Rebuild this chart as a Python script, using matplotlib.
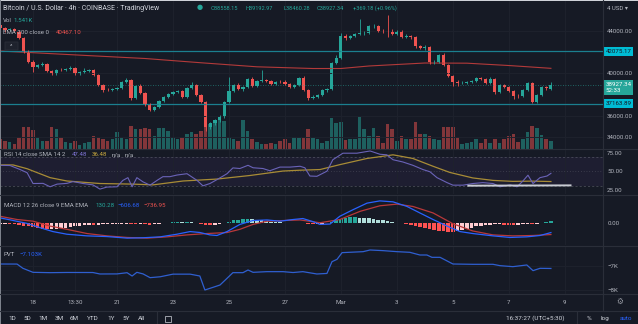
import numpy as np
import matplotlib.pyplot as plt
from matplotlib.patches import Rectangle, FancyBboxPatch

plt.rcParams['font.family'] = ['Roboto', 'DejaVu Sans']

# ---- data: BTC/USD 4h candles, Feb 16 20:00 .. Mar 8 12:00 (x in days from Feb 17) ----
first_bar = -1
opens = [44536, 44254, 44066, 44160, 43972, 43315, 42000, 41061, 40592, 40780, 40873, 40216,
         39934, 40310, 40280, 40404, 40498, 39934, 40122, 40216, 40310, 39841, 38902, 38432,
         38410, 38526, 38620, 39183, 39371, 37681, 38808, 38150, 37117, 36554, 36836, 37399,
         37775, 38056, 38244, 38338, 37775, 38620, 38902, 37963, 37305, 34958, 35333, 35615,
         35895, 37305, 38338, 38902, 38526, 38714, 39465, 38808, 39277, 39371, 39277, 38995,
         39183, 39160, 38995, 38714, 38902, 39559, 38432, 37681, 37775, 37963, 38432, 38526,
         40967, 41437, 43503, 43315, 43503, 43690, 43784, 43810, 44442, 44470, 43972, 43950,
         43878, 43690, 43972, 43409, 43503, 43409, 42564, 42376, 42470, 41061, 41090, 41718,
         40780, 39747, 39183, 39089, 39120, 39183, 39277, 39559, 39465, 39089, 39465, 38244,
         38902, 38714, 38338, 37869, 37850, 38432, 39089, 37305, 37963, 38714, 38558]
highs = [44723, 44348, 44254, 44254, 44066, 43409, 42188, 41249, 40873, 41061, 40967, 40310,
         40404, 40498, 40498, 40686, 40592, 40216, 40498, 40404, 40404, 39934, 38995, 38620,
         38620, 38714, 39277, 39559, 39465, 38902, 38995, 38244, 37211, 36930, 37493, 37869,
         38150, 38338, 38432, 38432, 38714, 39183, 38995, 38056, 37399, 35427, 35707, 36085,
         37399, 39653, 38995, 39089, 38808, 39559, 39653, 39371, 40310, 39465, 39371, 39277,
         39371, 39371, 39089, 38995, 39653, 39747, 38526, 37963, 38056, 38526, 38620, 41061,
         41718, 43784, 43690, 43597, 43784, 45099, 43972, 44536, 44629, 44536, 44160, 45475,
         44160, 44066, 44066, 43690, 43597, 43503, 42658, 42658, 42564, 41249, 41813, 41906,
         40873, 39841, 39371, 39277, 39277, 39371, 39653, 39653, 39559, 39653, 39559, 38995,
         38995, 38808, 38432, 38056, 38526, 39183, 39183, 38056, 38808, 38808, 39193]
lows = [44160, 43878, 43972, 43878, 43221, 41906, 40967, 40122, 40498, 40686, 40122, 39841,
        39841, 40216, 40216, 40310, 39841, 39841, 40028, 40122, 39747, 38808, 38244, 38338,
        38338, 38432, 38526, 39089, 37493, 37587, 38056, 36930, 36460, 36460, 36742, 37305,
        37681, 37963, 38150, 37681, 37681, 38526, 37869, 37211, 34582, 34770, 35146, 35427,
        35801, 37211, 38244, 38432, 38338, 38620, 38714, 38714, 39183, 39183, 38902, 38902,
        39089, 38902, 38620, 38620, 38808, 38338, 37493, 37587, 37681, 37869, 38244, 38432,
        40873, 41343, 43127, 43221, 43409, 43597, 43597, 43690, 44254, 43878, 43784, 43409,
        43597, 43597, 43315, 43315, 43221, 42376, 42282, 42188, 40873, 40873, 40967, 40686,
        39653, 38808, 38808, 38995, 38995, 39089, 39183, 39371, 38995, 38995, 38056, 38150,
        38620, 38244, 37587, 37681, 37775, 38338, 37211, 37211, 37869, 38432, 38460]
closes = [44254, 44066, 44160, 43972, 43315, 42000, 41061, 40592, 40780, 40873, 40216, 39934,
          40310, 40280, 40404, 40498, 39934, 40122, 40216, 40310, 39841, 38902, 38432, 38410,
          38526, 38620, 39183, 39371, 37681, 38808, 38150, 37117, 36554, 36836, 37399, 37775,
          38056, 38244, 38338, 37775, 38620, 38902, 37963, 37305, 34958, 35333, 35615, 35895,
          37305, 38338, 38902, 38526, 38714, 39465, 38808, 39277, 39371, 39277, 38995, 39183,
          39160, 38995, 38714, 38902, 39559, 38432, 37681, 37775, 37963, 38432, 38526, 40967,
          41437, 43503, 43315, 43503, 43690, 43784, 43810, 44442, 44470, 43972, 43950, 43878,
          43690, 43972, 43409, 43503, 43409, 42564, 42376, 42470, 41061, 41090, 41718, 40780,
          39747, 39183, 39089, 39120, 39183, 39277, 39559, 39465, 39089, 39465, 38244, 38902,
          38714, 38338, 37869, 37850, 38432, 39089, 37305, 37963, 38714, 38600, 38927.34]
volumes = [1900, 1520, 1330, 950, 2280, 4180, 4180, 3610, 2280, 1520, 1520, 4180,
           3800, 2280, 1330, 1140, 1520, 760, 1140, 1330, 2470, 2280, 1900, 1520,
           1900, 3230, 2280, 1900, 4370, 3800, 3800, 3990, 3800, 2470, 3990, 3990,
           3420, 2280, 1900, 2280, 2850, 3230, 2850, 3420, 5700, 4750, 5320, 5510,
           5320, 2280, 1900, 1520, 5510, 3420, 1900, 1330, 950, 950, 1140, 950,
           1520, 1900, 1140, 2280, 2090, 2090, 3800, 2090, 1900, 1140, 1520, 5890,
           4940, 5130, 1710, 1900, 1900, 6080, 3800, 2470, 3990, 2470, 1140, 4750,
           3800, 1520, 2470, 1900, 1900, 5130, 2850, 2850, 2470, 1900, 1710, 4180,
           4180, 4180, 2280, 950, 1140, 1330, 1900, 1140, 1900, 1140, 1900, 1140,
           1900, 2470, 2850, 1330, 1900, 3230, 4370, 3990, 2660, 1900, 1541]

ema_days = [-0.18, 1, 3, 5, 7, 9, 11, 12, 13, 15, 16.5, 18, 19.5]
ema_vals = [42090, 41935, 41660, 41390, 40990, 40610, 40450, 40450, 40686, 40967, 40950, 40730, 40467.1]
levels = [42075.17, 37163.89]

rsi_days = [-0.18, 0.18, 0.54, 0.79, 1.0, 1.36, 1.61, 1.86, 2.21, 2.43, 2.79, 3.14, 3.39, 3.64,
            4.0, 4.21, 4.39, 4.54, 4.71, 4.93, 5.18, 5.43, 5.64, 5.89, 6.14, 6.5, 6.86, 7.07,
            7.32, 7.57, 7.93, 8.14, 8.39, 8.68, 8.86, 9.21, 9.46, 9.82, 10.18, 10.54, 10.71,
            10.89, 11.14, 11.5, 11.71, 12.07, 12.57, 13.04, 13.39, 13.64, 13.86, 14.21, 14.57,
            14.93, 15.18, 15.43, 15.79, 16.0, 16.36, 16.71, 17.07, 17.43, 17.68, 18.04, 18.29,
            18.5, 18.68, 18.86, 19.11, 19.36, 19.5]
rsi_vals = [58.3, 58, 52.6, 48.3, 33.8, 34, 29.4, 33, 34, 36.4, 33.8, 32, 26.3, 29,
            29.4, 38, 41.7, 29.4, 41.7, 36, 31.6, 38, 43, 43, 45.2, 47, 38, 30.7,
            33.8, 39, 47, 54.8, 54, 58.3, 55, 54, 51, 55.9, 55.9, 57, 55,
            43.9, 43.5, 50.4, 65.8, 74.6, 74.6, 77.6, 73.2, 72.4, 65.8, 62.8, 58.3,
            52.6, 49.6, 41.7, 35, 31.6, 31.6, 33.8, 35, 33.8, 29.4, 32, 29.4,
            37.2, 45, 33.8, 41.7, 43.9, 47.48]
rsi_ma_days = [-0.18, 0.29, 0.79, 1.61, 2.21, 3.39, 4.57, 5.29, 6.36, 7.57, 8.75, 9.93, 10.54,
               11.25, 11.96, 12.93, 13.86, 14.57, 15.29, 15.89, 16.71, 17.43, 18.14, 18.86, 19.5]
rsi_ma_vals = [58.8, 58.8, 53.7, 41.7, 37.2, 33.8, 33, 32, 37.2, 39.8, 44.6, 50.6, 51.7,
               52.6, 59.2, 67.5, 72.4, 67.5, 57, 48.7, 41.3, 38, 36.7, 37, 36.48]
rsi_trend_days = [16.55, 20.2]
rsi_trend_vals = [30.9, 31.3]

macd_days = [-0.18, 0.29, 0.79, 1.25, 1.71, 2.21, 2.93, 3.64, 4.36, 4.93, 5.54, 6.14, 6.61, 6.96,
             7.32, 7.57, 7.93, 8.39, 8.86, 9.36, 9.82, 10.29, 10.64, 11.0, 11.25, 11.61, 11.96,
             12.43, 12.93, 13.39, 13.86, 14.36, 14.82, 15.29, 15.79, 16.25, 16.71, 17.43, 18.04,
             18.64, 19.11, 19.5]
macd_vals = [370, 195, 0, -280, -540, -715, -825, -870, -975, -950, -890, -715, -540, -600,
             -760, -800, -540, -65, 195, 230, 150, 260, 325, 120, -65, -40, 475,
             910, 1345, 1495, 1430, 1125, 695, 260, -175, -540, -670, -825, -930,
             -890, -800, -606.68]
signal_days = [-0.18, 0.43, 1.0, 1.61, 2.21, 2.93, 3.64, 4.36, 5.07, 5.79, 6.5, 7.21, 7.93, 8.39,
               8.86, 9.36, 10.07, 10.54, 11.25, 11.96, 12.68, 13.39, 14.0, 14.57, 15.29, 16.0,
               16.71, 17.43, 18.14, 18.86, 19.5]
signal_vals = [475, 260, 150, -175, -390, -670, -825, -930, -975, -890, -760, -670, -605, -390,
               -65, 150, 200, 230, 45, 260, 800, 1170, 1280, 1125, 695, -20,
               -500, -760, -825, -800, -736.95]
hist_vals = [-30, -20, -30, -50, -90, -150, -200, -230, -300, -360, -390, -380, -350,
             -310, -270, -230, -190, -150, -110, -80, -90, -80, -70, -60, -50, -40, -30, -30, -50,
             -70, -60, -65, -80, -70, -55, 20, 50, 80, 100, 90, 110, 100,
             60, -40, -90, -100, -80, -60, 30, 120, 200, 260, 300, 320,
             300, 250, 200, 150, 120, 100, 80, 60, 50, 40, 30, 10, -60, -70, -60, -20,
             20, 100, 200, 290, 360, 400, 410, 390, 360, 330, 300, 260, 210, 160, 110, 60,
             20, -40, -100, -180, -250, -310, -390, -440, -480, -520, -550, -560,
             -500, -420, -340, -270, -200, -150, -110, -80, -70, -60, -80, -90, -100, -95, -70, -40,
             -60, -20, 30, 80, 130.28]

pvt_days = [-0.18, 0.43, 0.64, 1.0, 1.61, 2.21, 3.14, 3.39, 4.0, 4.36, 4.54, 4.71, 4.93, 5.18,
            5.54, 6.0, 6.61, 6.96, 7.14, 7.43, 7.68, 7.93, 8.14, 8.5, 8.68, 8.86, 9.36, 9.93,
            10.29, 10.64, 11.14, 11.5, 11.68, 11.86, 12.04, 12.79, 13.04, 13.5, 14.0, 14.46,
            14.82, 15.07, 15.25, 15.54, 16.0, 16.71, 17.43, 17.68, 18.14, 18.64, 18.86, 19.11, 19.5]
pvt_vals = [-6917, -6920, -7097, -7264, -7278, -7270, -7272, -7333, -7330, -7280, -7417, -7264,
            -7330, -7486, -7450, -7340, -7340, -7417, -8000, -7889, -7792, -7514, -7278, -7278,
            -7167, -7264, -7236, -7236, -7272, -7236, -7333, -7310, -6820, -6722, -6444, -6403,
            -6333, -6360, -6403, -6430, -6542, -6542, -6639, -6639, -6917, -6930, -6930, -6986,
            -7028, -6958, -7194, -7097, -7103]

tick_days = [1, 2.5, 4, 6, 8, 10, 12, 14, 16, 18, 20]
tick_labels = ['18', '13:30', '21', '23', '25', '27', 'Mar', '3', '5', '7', '9']

# ---- style ----
W, H = 638, 324
PLOT_R = 603
X0, X1 = -0.179, 21.36
BG = '#161a25'
GRID = '#1e222d'
SEP = '#2a2e39'
TXT = '#b2b5be'
UP = '#26a69a'
DN = '#ef5350'

fig = plt.figure(figsize=(W / 100, H / 100), dpi=100)
fig.patch.set_facecolor(BG)


def pane(top, bottom, face=BG):
    a = fig.add_axes([0, 1 - bottom / H, PLOT_R / W, (bottom - top) / H])
    a.set_facecolor(face)
    a.set_xlim(X0, X1)
    for s in a.spines.values():
        s.set_visible(False)
    a.set_xticks(tick_days)
    a.tick_params(axis='x', length=0, labelbottom=False)
    a.yaxis.tick_right()
    a.tick_params(axis='y', length=0, labelsize=4.4, labelcolor=TXT, pad=3)
    return a


def ftext(x, y, s, color=TXT, size=4.6, ha='left', **kw):
    fig.text(x / W, 1 - y / H, s, color=color, fontsize=size, ha=ha, va='center', **kw)


def hline(y, x0=0, x1=W, color=SEP, lw=0.8):
    fig.add_artist(plt.Line2D([x0 / W, x1 / W], [1 - y / H] * 2, transform=fig.transFigure,
                              color=color, lw=lw))


def vline(x, y0, y1, color=SEP, lw=0.8):
    fig.add_artist(plt.Line2D([x / W] * 2, [1 - y0 / H, 1 - y1 / H], transform=fig.transFigure,
                              color=color, lw=lw))


days = (first_bar + np.arange(len(closes))) / 6
o = np.array(opens)
c = np.array(closes)
up = c >= o
cols = np.where(up, UP, DN)

# ---- price pane with volume ----
ax_v = pane(0, 149)
ax_v.grid(axis='x', color=GRID, lw=0.7)
ax_v.tick_params(axis='y', right=False, labelright=False)
ax_v.bar(days, volumes, width=0.13, color=cols, alpha=0.5, lw=0)
ax_v.set_ylim(0, 28120)

ax = pane(0, 149, face='none')
ax.set_ylim(32892, 46883)
ax.set_yticks([34000, 36000, 40000, 44000])
ax.set_yticklabels([f'{v:.2f}' for v in [34000, 36000, 40000, 44000]])
ax.grid(axis='y', color=GRID, lw=0.7)
ax.plot(ema_days, ema_vals, color='#b33a3a', lw=0.8)
for lv in levels:
    ax.axhline(lv, color='#1b7f8f', lw=0.9)
ax.axhline(closes[-1], color=UP, lw=0.6, ls=(0, (1, 2)), alpha=0.7)
ax.vlines(days, lows, highs, colors=cols, lw=0.6)
body = np.maximum(np.abs(c - o), 25)
ax.bar(days, body, bottom=np.minimum(o, c), width=0.11, color=cols, lw=0)

ytr = ax.get_yaxis_transform()
for lv in levels:
    ax.text(1.004, lv, f'{lv:.2f}', transform=ytr, ha='left', va='center', fontsize=4.4,
            color='#131722', bbox=dict(boxstyle='square,pad=0.3', fc='#00bcd4', ec='none'))
ax.text(1.004, closes[-1] - 250, f'{closes[-1]:.2f}\n52:33', transform=ytr, ha='left',
        va='center', fontsize=4.4, color='white', linespacing=1.25,
        bbox=dict(boxstyle='square,pad=0.3', fc=UP, ec='none'))

# ---- RSI ----
ax_r = pane(150, 194)
ax_r.grid(axis='x', color=GRID, lw=0.7)
ax_r.set_ylim(19.7, 78.9)
ax_r.set_yticks([25, 50, 75])
ax_r.set_yticklabels(['25.00', '50.00', '75.00'])
ax_r.axhspan(30, 70, color='#7e57c2', alpha=0.08, lw=0)
for lv, ls in [(70, (0, (3, 3))), (50, (0, (1, 3))), (30, (0, (3, 3)))]:
    ax_r.axhline(lv, color='#787b86', lw=0.5, ls=ls, alpha=0.6)
ax_r.plot(rsi_ma_days, rsi_ma_vals, color='#a88c36', lw=0.9)
ax_r.plot(rsi_days, rsi_vals, color='#6a63b8', lw=0.8)
ax_r.plot(rsi_trend_days, rsi_trend_vals, color='#c8cbd2', lw=1.4)

# ---- MACD ----
ax_m = pane(195, 245)
ax_m.grid(axis='x', color=GRID, lw=0.7)
ax_m.set_ylim(-1430, 1885)
ax_m.set_yticks([0])
ax_m.set_yticklabels(['0.00'])
hv = np.array(hist_vals, dtype=float)
prev = np.concatenate([[hv[0]], hv[:-1]])
hcols = np.where(hv >= 0, np.where(hv >= prev, '#26a69a', '#b2dfdb'),
                 np.where(hv < prev, '#ff5252', '#ffcdd2'))
ax_m.bar(days, hv, width=0.13, color=hcols, lw=0)
ax_m.plot(signal_days, signal_vals, color='#b8383a', lw=0.9)
ax_m.plot(macd_days, macd_vals, color='#2962ff', lw=0.9)

# ---- PVT ----
ax_p = pane(246, 294)
ax_p.grid(axis='x', color=GRID, lw=0.7)
ax_p.set_ylim(-8167, -6167)
ax_p.set_yticks([-8000, -7000])
ax_p.set_yticklabels(['\u22128K', '\u22127K'])
ax_p.grid(axis='y', color=GRID, lw=0.7)
ax_p.plot(pvt_days, pvt_vals, color='#2f5fd0', lw=0.9)
ax_p.set_xticklabels(tick_labels)
ax_p.tick_params(axis='x', labelbottom=True, labelsize=4.4, labelcolor=TXT, pad=4)

# ---- frame lines ----
for y in [149.5, 194.5, 245.5, 294, 310.5]:
    hline(y)
vline(PLOT_R, 0, 310.5)
vline(157, 312, 323)
vline(577, 312, 323)
fig.add_artist(Rectangle((0, 1 - 1.2 / H), 1, 1.2 / H, transform=fig.transFigure,
                         color='#cfd2d8', lw=0))
fig.add_artist(Rectangle((0, 0), 1.0 / W, 1, transform=fig.transFigure, color='#7d828c', lw=0))

# ---- legends ----
ftext(3, 8, 'Bitcoin / U.S. Dollar \u00b7 4h \u00b7 COINBASE \u00b7 TradingView', color='#d1d4dc', size=5.0)
ftext(200, 8, '\u25cf', color=UP, size=5.0, ha='center')
for x, s in [(211, 'O38558.15'), (245, 'H39192.97'), (284, 'L38460.28'), (317, 'C38927.34'),
             (353, '+369.18 (+0.96%)')]:
    ftext(x, 8, s, color=UP, size=4.1)
ftext(3, 20.5, 'Vol', size=4.4)
ftext(13, 20.5, '1.541K', color=UP, size=4.4)
ftext(3, 33, 'EMA 200 close 0', size=4.4)
ftext(56, 33, '40467.10', color=DN, size=4.4)
fig.add_artist(FancyBboxPatch((5 / W, 1 - 50 / H), 13 / W, 8 / H, boxstyle='round,pad=0',
                              transform=fig.transFigure, fc='#1e222d', ec=SEP, lw=0.6))
ftext(11.5, 46.5, '^', size=4.2, ha='center')

ftext(4, 155, 'RSI 14 close SMA 14 2', size=4.4)
ftext(72, 155, '47.48', color='#7e74d6', size=4.4)
ftext(92, 155, '36.48', color='#c9a93e', size=4.4)
ftext(112, 155, 'n/a', size=4.4)
ftext(125, 155, 'n/a', size=4.4)

ftext(4, 205.5, 'MACD 12 26 close 9 EMA EMA', size=4.4)
ftext(95, 205.5, '130.28', color=UP, size=4.4)
ftext(118, 205.5, '\u2212606.68', color='#2962ff', size=4.4)
ftext(143, 205.5, '\u2212736.95', color=DN, size=4.4)

ftext(4, 254, 'PVT', size=4.4)
ftext(20, 254, '\u22127.103K', color='#2962ff', size=4.4)

# ---- right column and toolbars ----
ftext(607, 8, '4 USD \u25be', size=4.4)
ftext(620, 302, '\u2699', size=5.5, ha='center', color='#9598a1')
for x, s in [(12, '1D'), (27, '5D'), (43, '1M'), (59, '3M'), (74, '6M'), (93, 'YTD'),
             (111, '1Y'), (126, '5Y'), (142, 'All')]:
    ftext(x, 318.5, s, size=4.6, ha='center', color='#d1d4dc')
fig.add_artist(Rectangle((165 / W, 1 - 322 / H), 6 / W, 6 / H, transform=fig.transFigure,
                         fill=False, ec=TXT, lw=0.6))
ftext(535, 318.5, '16:37:27 (UTC+5:30)', size=4.6, ha='center', color='#d1d4dc')
ftext(589, 318.5, '%', size=4.6, ha='center', color='#d1d4dc')
ftext(605, 318.5, 'log', size=4.6, ha='center', color='#d1d4dc')
ftext(626, 318.5, 'auto', size=4.6, ha='center', color='#2962ff')

fig.savefig('out.png', dpi=100, facecolor=BG)
